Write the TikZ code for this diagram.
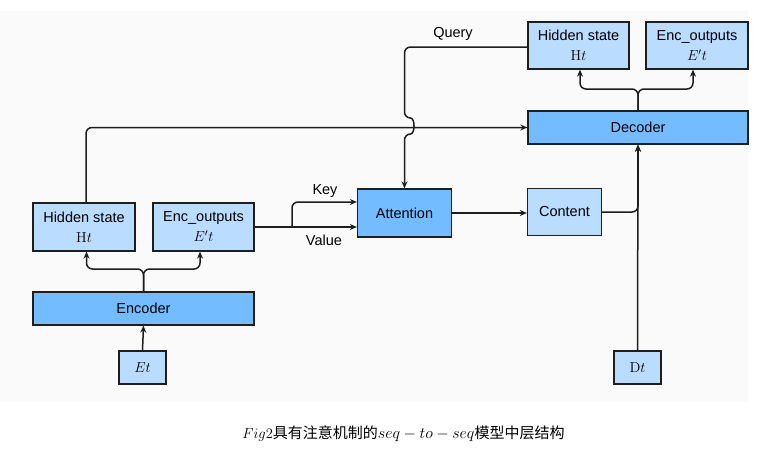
\RequirePackage{fix-cm}
\documentclass[tikz,border=0pt]{standalone}
\usepackage{fontspec}
\setsansfont{Liberation Sans}
\newfontfamily\cjk{Noto Sans CJK SC}
\usetikzlibrary{arrows.meta,calc}
\definecolor{darkfill}{HTML}{73BCFF}
\definecolor{lightfill}{HTML}{BADCFF}
\definecolor{linec}{HTML}{1E1E1E}
\definecolor{bgc}{HTML}{FAFAFA}
\tikzset{
  box/.style={draw=linec, line width=1.3pt, inner sep=0pt, align=center,
    font=\sffamily\fontsize{14.5}{20}\selectfont},
  darkbox/.style={box, fill=darkfill},
  lightbox/.style={box, fill=lightfill},
  conn/.style={draw=linec, line width=1.5pt, rounded corners=6pt},
  arr/.style={conn, -{Stealth[length=7pt,width=6pt]}},
  lbl/.style={font=\sffamily\fontsize{14.5}{17}\selectfont, inner sep=0pt},
}
\begin{document}
\begin{tikzpicture}[x=1pt,y=-1pt]
\useasboundingbox (0,0) rectangle (758,455);
\fill[bgc] (0,11) rectangle (748,402);

% encoder side
\node[lightbox, minimum width=102pt, minimum height=48pt] (hs1) at (84,227) {Hidden state\\ $\mathrm{H}t$};
\node[lightbox, minimum width=101pt, minimum height=48pt] (eo1) at (203.5,227) {Enc\_outputs\\ $E't$};
\node[darkbox, minimum width=221pt, minimum height=33pt] (enc) at (143.5,308.5) {Encoder};
\node[lightbox, minimum width=47pt, minimum height=33pt] (et) at (142.5,367.5) {$Et$};

% attention
\node[darkbox, minimum width=94pt, minimum height=48pt] (att) at (404.5,213) {Attention};
\node[lightbox, minimum width=74pt, minimum height=47pt] (cont) at (564.5,212) {Content};

% decoder side
\node[darkbox, minimum width=220pt, minimum height=33pt] (dec) at (638,127.5) {Decoder};
\node[lightbox, minimum width=101pt, minimum height=47pt] (hs2) at (578.5,45.5) {Hidden state\\ $\mathrm{H}t$};
\node[lightbox, minimum width=102pt, minimum height=47pt] (eo2) at (697,45.5) {Enc\_outputs\\ $E't$};
\node[lightbox, minimum width=47pt, minimum height=33pt] (dt) at (637.5,367.5) {$\mathrm{D}t$};

% labels
\node[lbl] (keyl) at (325,191) {Key};
\node[lbl] (vall) at (324,240) {Value};
\node[lbl] (qryl) at (453,34) {Query};

% encoder connections
\draw[arr] (et.north) -- (enc.south);
\coordinate (ej) at (143.5,269);
\draw[arr] (enc.north) -- (ej) -| ([xshift=2.5pt]hs1.south);
\draw[arr] (enc.north) -- (ej) -| ([xshift=-3.5pt]eo1.south);

% long line to decoder
\draw[arr] ([xshift=2pt]hs1.north) |- (dec.west);

% key / value
\coordinate (ks) at (292,227);
\draw[arr] (eo1.east) -- (att.west |- eo1.east);
\draw[arr] (ks) |- ([yshift=11pt]att.west);

% query with jump
\coordinate (qb1) at (att.north |- 0,118);
\coordinate (qb2) at (att.north |- 0,134);
\draw[arr] ([yshift=-1.5pt]hs2.west) -| (qb1) .. controls ($(qb1)+(10.7,0)$) and ($(qb2)+(10.7,0)$) .. (qb2) -- (att.north);

% attention -> content -> decoder
\draw[arr] (att.east) -- (cont.west |- att.east);
\draw[arr] (cont.east) -| (dec.south);
\draw[arr] (dt.north) -- (dec.south);

% decoder split
\coordinate (dj) at (638,89);
\draw[arr] (dec.north) -- (dj) -| ([xshift=1.5pt]hs2.south);
\draw[arr] (dec.north) -- (dj) -| ([xshift=-4pt]eo2.south);

% caption
\node[inner sep=0pt] (cap) at (403.5,434)
  {{\fontsize{14.5}{17}\selectfont $Fig2$}{\cjk\fontsize{15}{18}\selectfont 具有注意机制的}{\fontsize{16}{18}\selectfont $seq-to-seq$}{\cjk\fontsize{15}{18}\selectfont 模型中层结构}};
\end{tikzpicture}
\end{document}
